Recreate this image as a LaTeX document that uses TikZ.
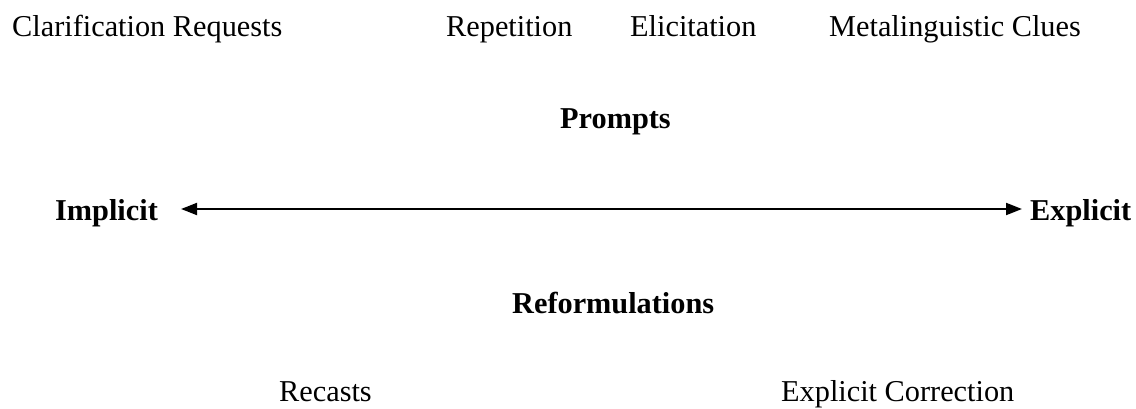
\documentclass[tikz,border=0pt]{standalone}
\usepackage{fontspec}
\setmainfont{Liberation Serif}
\usetikzlibrary{arrows.meta}
\begin{document}
\begin{tikzpicture}[x=1pt,y=-1pt,
  lbl/.style={anchor=base west,inner sep=0pt,font=\fontsize{30.3}{36}\selectfont},
  blbl/.style={lbl,font=\fontsize{30.3}{36}\selectfont\bfseries},
  arr/.style={{Triangle[length=16pt,width=12pt]}-{Triangle[length=16pt,width=12pt]},line width=2pt}]
\useasboundingbox (0,0) rectangle (1136,409);
\node[lbl] (clar) at (12,37) {Clarification Requests};
\node[lbl] (rep) at (446,37) {Repetition};
\node[lbl] (eli) at (630,37) {Elicitation};
\node[lbl] (meta) at (829,37) {Metalinguistic Clues};
\node[blbl] (prompts) at (560,129) {Prompts};
\node[blbl] (impl) at (55,220) {Implicit};
\node[blbl] (expl) at (1030,220) {Explicit};
\node[blbl] (reform) at (512,313) {Reformulations};
\node[lbl] (recasts) at (279,401) {Recasts};
\node[lbl] (expcorr) at (781,401) {Explicit Correction};
\draw[arr] ([xshift=23pt,yshift=11pt]impl.base east) -- ([xshift=-8pt,yshift=11pt]expl.base west);
\end{tikzpicture}
\end{document}
